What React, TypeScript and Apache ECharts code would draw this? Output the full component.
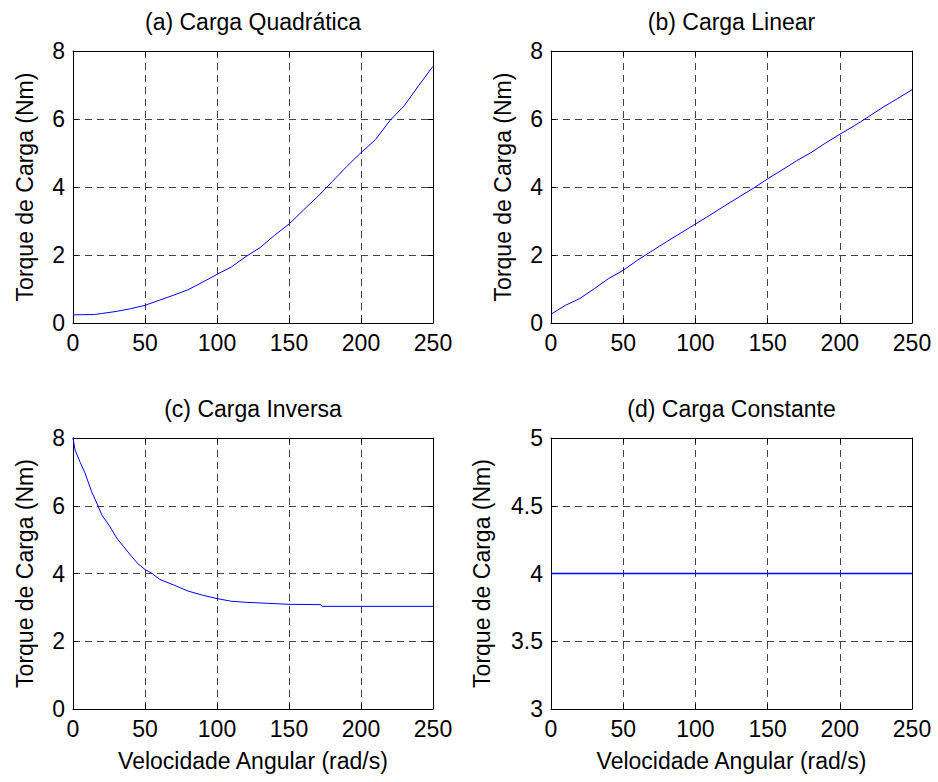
import React, { useEffect, useRef } from "react";
import * as echarts from "echarts";

// ---- data ----
const titles = ["(a) Carga Quadrática", "(b) Carga Linear", "(c) Carga Inversa", "(d) Carga Constante"];
const xName = "Velocidade Angular (rad/s)";
const yName = "Torque de Carga (Nm)";

const speedA = [0, 15, 20, 30, 40, 50, 60, 70, 80, 90, 100, 110, 120, 130, 140, 150, 160, 170, 180, 190, 200, 210, 220, 230, 240, 250];
const torqueA = [0.24, 0.25, 0.28, 0.34, 0.42, 0.52, 0.67, 0.82, 0.98, 1.2, 1.43, 1.65, 1.95, 2.22, 2.58, 2.91, 3.32, 3.72, 4.16, 4.6, 5.01, 5.39, 5.95, 6.39, 6.98, 7.55];

const speedB = [0, 10, 20, 30, 40, 50, 60, 70, 80, 90, 100, 110, 120, 130, 140, 150, 160, 170, 180, 190, 200, 210, 220, 230, 240, 250];
const torqueB = [0.26, 0.52, 0.72, 1.01, 1.31, 1.55, 1.85, 2.12, 2.39, 2.65, 2.91, 3.17, 3.44, 3.7, 3.96, 4.24, 4.5, 4.77, 5.01, 5.29, 5.55, 5.8, 6.07, 6.35, 6.6, 6.86];

const speedC = [0, 1.4, 5, 8.3, 13, 16.5, 20, 25.7, 30.3, 35, 40.8, 45, 50, 55, 60, 70, 80, 90, 100, 110, 120, 135, 150, 172, 173, 250];
const torqueC = [8.0, 7.65, 7.28, 6.97, 6.41, 6.08, 5.73, 5.38, 5.05, 4.8, 4.5, 4.29, 4.12, 4.0, 3.83, 3.66, 3.48, 3.36, 3.26, 3.18, 3.15, 3.12, 3.09, 3.08, 3.03, 3.03];

const speedD = [0, 250];
const torqueD = [4, 4];

const xTicks = { min: 0, max: 250, interval: 50 };
const yTicksABC = { min: 0, max: 8, interval: 2 };
const yTicksD = { min: 3, max: 5, interval: 0.5 };

const zip = (xs: number[], ys: number[]) => xs.map((x, i) => [x, ys[i]]);

export default function App() {
  const ref = useRef<HTMLDivElement>(null);
  useEffect(() => {
    if (!ref.current) return;
    const chart = echarts.init(ref.current, null, { renderer: "svg" });
    const font = "'Liberation Sans', Arial, sans-serif";
    const fs = 23;
    const grids = [
      { left: 73, top: 51, width: 360, height: 272 },
      { left: 551, top: 51, width: 361, height: 272 },
      { left: 73, top: 438, width: 360, height: 271 },
      { left: 551, top: 438, width: 361, height: 271 },
    ];
    const ys = [yTicksABC, yTicksABC, yTicksABC, yTicksD];
    const series = [zip(speedA, torqueA), zip(speedB, torqueB), zip(speedC, torqueC), zip(speedD, torqueD)];
    const yGaps = [37, 37, 37, 58];
    const splitLine = { show: true, lineStyle: { color: "#444", type: [7, 5] as any, width: 1 } };
    const axisLine = { show: true, onZero: false, lineStyle: { color: "#000", width: 1 } };
    const axisTick = { show: true, inside: true, length: 5, lineStyle: { color: "#000" } };
    const xAxis: any[] = [];
    const yAxis: any[] = [];
    grids.forEach((g, i) => {
      xAxis.push({
        type: "value", gridIndex: i, ...xTicks, position: "bottom",
        name: i >= 2 ? xName : "", nameLocation: "middle", nameGap: 40,
        nameTextStyle: { fontFamily: font, fontSize: fs, color: "#000" },
        axisLine, axisTick,
        axisLabel: { fontFamily: font, fontSize: fs, color: "#000", margin: 8 },
        splitLine,
      });
      xAxis.push({
        type: "value", gridIndex: i, ...xTicks, position: "top",
        axisLine, axisTick,
        axisLabel: { show: false }, splitLine: { show: false },
      });
      yAxis.push({
        type: "value", gridIndex: i, ...ys[i], position: "left",
        name: yName, nameLocation: "middle", nameGap: yGaps[i],
        nameTextStyle: { fontFamily: font, fontSize: fs, color: "#000" },
        axisLine, axisTick,
        axisLabel: { fontFamily: font, fontSize: fs, color: "#000", margin: 8 },
        splitLine,
      });
      yAxis.push({
        type: "value", gridIndex: i, ...ys[i], position: "right",
        axisLine, axisTick,
        axisLabel: { show: false }, splitLine: { show: false },
      });
    });
    chart.setOption({
      animation: false,
      backgroundColor: "#fff",
      title: grids.map((g, i) => ({
        text: titles[i],
        left: g.left + g.width / 2,
        top: g.top - 41,
        textAlign: "center",
        padding: 0,
        textStyle: { fontFamily: font, fontSize: fs, fontWeight: "normal", color: "#000" },
      })),
      grid: grids,
      xAxis,
      yAxis,
      series: series.map((d, i) => ({
        type: "line",
        xAxisIndex: i * 2,
        yAxisIndex: i * 2,
        data: d,
        showSymbol: false,
        symbol: "none",
        lineStyle: { color: "#0000ff", width: i === 3 ? 1.6 : 1 },
        z: 5,
      })),
    });
    return () => chart.dispose();
  }, []);
  return <div ref={ref} style={{ position: "fixed", left: 0, top: 0, width: 938, height: 782 }} />;
}
